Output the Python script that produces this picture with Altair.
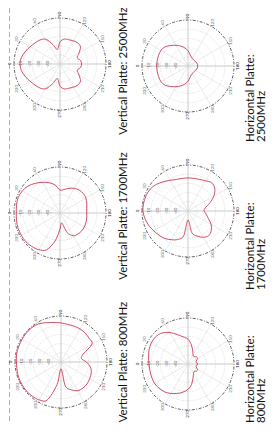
import altair as alt
import pandas as pd

# ---- data ----
ANGLES = list(range(0, 360, 10))  # degrees, 0 = main beam direction

V2500 = [-6.5, -7.5, -10, -12.5, -14.5, -16, -19, -27.5, -34, -26, -22.5, -22, -21, -20, -21, -26, -30, -27.5,
         -26.5, -27.5, -30, -26, -21, -20, -21, -22, -22.5, -26, -34, -27.5, -19, -16, -14.5, -12.5, -10, -7.5]
H2500 = [-16, -16, -16, -16, -17.5, -21, -24, -27, -30, -33.5, -37.5, -39.5, -40.5, -41, -41, -40.5, -40, -39.5,
         -39.5, -39.5, -40, -40.5, -41, -41, -40.5, -39.5, -37.5, -33.5, -30, -27, -24, -21, -17.5, -16, -16, -16]
V1700 = [-2.5, -2, -1.5, -2.5, -4.5, -8, -11.5, -15, -19, -25, -24, -21.5, -19, -17.5, -17, -17.5, -19, -20.5,
         -21, -20.5, -20, -19.5, -19.5, -20, -21.5, -27.5, -39, -32.5, -19, -7.5, -4, -2.5, -1.5, -1.5, -1.5, -2]
H1700 = [-1, -1, -1.5, -2.5, -5, -8.5, -11.5, -13.5, -14, -14, -14, -13.5, -12, -10, -12, -17.5, -25, -31,
         -32.5, -30, -26.5, -21, -17, -15, -17, -21, -26, -40, -22.5, -17, -14, -11, -9, -7, -4.5, -2.5]
V800 = [-1.5, -1, -1, -1, -1, -1, -2, -4.5, -6.5, -7.5, -8.5, -8.5, -8.5, -9, -10, -11, -24, -27.5,
        -22.5, -17.5, -15, -14, -13, -13, -14, -18, -23.5, -42.5, -25, -6, -2.5, -1.5, -1, -1, -1, -1.5]
H800 = [-7.5, -6.5, -5, -4, -4, -6, -10.5, -16, -20, -23, -29, -35, -39, -39.5, -38, -38, -40.5, -41,
        -39, -41, -40.5, -38, -38, -39.5, -38, -34, -27.5, -22.5, -19, -16, -13, -10.5, -9, -8, -8, -8]

DB_MIN = -50
RING_DB = [-10, -20, -30, -40]
RING_LABELS = ["-10", "-20", "-30", "-40"]
TICK_ANGLES = list(range(0, 360, 30))
TICK_LABELS = [str(a) for a in TICK_ANGLES]

V_TITLES = ["Vertical Platte: 2500MHz", "Vertical Platte: 1700MHz", "Vertical Platte: 800MHz"]
H_TITLES_1 = ["Horizontal Platte:", "Horizontal Platte:", "Horizontal Platte:"]
H_TITLES_2 = ["2500MHz", "1700MHz", "800MHz"]

# ---- layout (page pixels) ----
R = 46
PANELS = [
    (V2500, 60, 64), (H2500, 188, 66),
    (V1700, 60, 213), (H1700, 188, 211),
    (V800, 61, 362), (H800, 188, 364),
]
V_TITLE_POS = [(124, 71), (124, 216), (124, 362)]
H_TITLE_POS = [(250.5, 262, 142), (250.5, 262, 290), (250.5, 262, 423)]

RED = "#cc3a55"
FONT = "Lato"
TITLE_SIZE = 11.5

xs = alt.Scale(domain=[8, 267])
ys = alt.Scale(domain=[8, 424], reverse=True)
X = lambda f: alt.X(f, type="quantitative", scale=xs, axis=None)
Y = lambda f: alt.Y(f, type="quantitative", scale=ys, axis=None)

layers = []

# left dashed separator
sep = pd.DataFrame({"x": [9.5]})
layers.append(alt.Chart(sep).mark_rule(color="#b0b0b0", strokeDash=[5, 3], strokeWidth=1).encode(
    x=X("x"), y=alt.value(0), y2=alt.value(416)))

circle_df = pd.DataFrame({"a": list(range(0, 361, 3))})

for gains, cx, cy in PANELS:
    rad = "(datum.a*PI/180)"
    # grid rings
    for db in RING_DB:
        rr = R * (db - DB_MIN) / (0 - DB_MIN)
        layers.append(alt.Chart(circle_df).transform_calculate(
            px=f"{cx} - {rr}*cos({rad})", py=f"{cy} - {rr}*sin({rad})"
        ).mark_line(color="#c4c4c4", strokeWidth=0.6, strokeDash=[1, 1.5]).encode(
            x=X("px"), y=Y("py"), order="a:Q"))
    # outer ring
    layers.append(alt.Chart(circle_df).transform_calculate(
        px=f"{cx} - {R}*cos({rad})", py=f"{cy} - {R}*sin({rad})"
    ).mark_line(color="#333333", strokeWidth=0.8, strokeDash=[3, 1.5, 1, 1.5]).encode(
        x=X("px"), y=Y("py"), order="a:Q"))
    # spokes
    spokes = pd.DataFrame({"a": TICK_ANGLES, "lab": TICK_LABELS})
    layers.append(alt.Chart(spokes).transform_calculate(
        x1=f"{cx}", y1=f"{cy}", x2=f"{cx} - {R}*cos({rad})", y2=f"{cy} - {R}*sin({rad})",
        main="datum.a % 90 == 0 ? 1 : 0"
    ).mark_rule(strokeWidth=0.6).encode(
        x=X("x1"), y=Y("y1"), x2="x2:Q", y2="y2:Q",
        color=alt.condition("datum.main == 1", alt.value("#a8a8a8"), alt.value("#dcdcdc"))))
    # angle labels (main directions slightly stronger)
    layers.append(alt.Chart(spokes).transform_calculate(
        lx=f"{cx} - {R + 3.8}*cos({rad})", ly=f"{cy} - {R + 3.8}*sin({rad})",
        main="datum.a % 90 == 0 ? 1 : 0"
    ).mark_text(angle=270, fontSize=4.5, font=FONT).encode(
        x=X("lx"), y=Y("ly"), text="lab:N",
        color=alt.condition("datum.main == 1", alt.value("#111111"), alt.value("#666666"))))
    # radial labels
    rl = pd.DataFrame({"db": RING_DB, "lab": RING_LABELS})
    layers.append(alt.Chart(rl).transform_calculate(
        lx=f"{cx} - ({R}*(datum.db - {DB_MIN})/{-DB_MIN} + 2.5)", ly=f"{cy}"
    ).mark_text(angle=270, fontSize=4.5, font=FONT, color="#666666").encode(
        x=X("lx"), y=Y("ly"), text="lab:N"))
    # pattern
    pat = pd.DataFrame({"a": ANGLES, "g": gains})
    layers.append(alt.Chart(pat).transform_calculate(
        r=f"{R}*(datum.g - {DB_MIN})/{-DB_MIN}",
        px=f"{cx} - datum.r*cos({rad})", py=f"{cy} - datum.r*sin({rad})"
    ).mark_line(color=RED, strokeWidth=0.9, interpolate="cardinal-closed").encode(
        x=X("px"), y=Y("py"), order="a:Q"))

# titles
vt = pd.DataFrame({"t": V_TITLES, "x": [p[0] for p in V_TITLE_POS], "y": [p[1] for p in V_TITLE_POS]})
layers.append(alt.Chart(vt).mark_text(angle=270, align="center", baseline="middle", fontSize=TITLE_SIZE,
                                      font=FONT, color="#111111").encode(x=X("x"), y=Y("y"), text="t:N"))
ht1 = pd.DataFrame({"t": H_TITLES_1, "x": [p[0] for p in H_TITLE_POS], "y": [p[2] for p in H_TITLE_POS]})
ht2 = pd.DataFrame({"t": H_TITLES_2, "x": [p[1] for p in H_TITLE_POS], "y": [p[2] for p in H_TITLE_POS]})
for d in (ht1, ht2):
    layers.append(alt.Chart(d).mark_text(angle=270, align="left", baseline="middle", fontSize=TITLE_SIZE,
                                         font=FONT, color="#111111").encode(x=X("x"), y=Y("y"), text="t:N"))

chart = alt.layer(*layers).properties(
    width=259, height=416, padding=0, autosize=alt.AutoSizeParams(type="none")
).configure_view(strokeWidth=0)

chart.save("out.html", embed_options={"renderer": "svg", "actions": False})
